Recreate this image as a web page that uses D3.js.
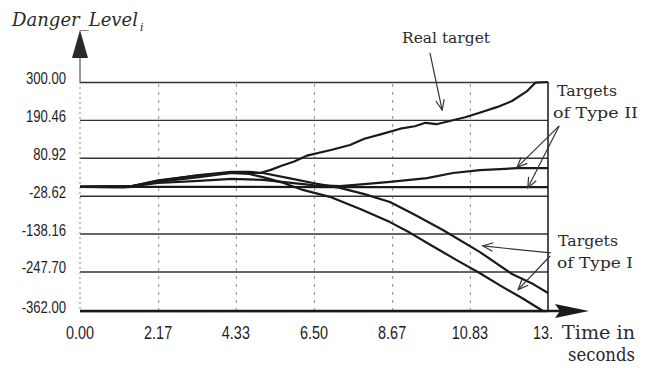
<!DOCTYPE html>
<html>
<head>
<meta charset="utf-8">
<script src="https://cdn.jsdelivr.net/npm/d3@7"></script>
<style>
  html, body { margin: 0; padding: 0; background: #fff; }
  svg { display: block; }
  .tick-label { font-family: "Liberation Sans", Arial, sans-serif; fill: #1e1e1e; }
  .note { font-family: "DejaVu Serif", "Liberation Serif", serif; fill: #2a2a2a; }
</style>
</head>
<body>
<svg id="chart" width="653" height="371"></svg>
<script>
// Axis ticks
const timeTicks = [0, 2.17, 4.33, 6.5, 8.67, 10.83, 13];
const timeTickLabels = ["0.00", "2.17", "4.33", "6.50", "8.67", "10.83", "13."];
const levelTicks = [300, 190.46, 80.92, -28.62, -138.16, -247.70, -362];
const levelTickLabels = ["300.00", "190.46", "80.92", "-28.62", "-138.16", "-247.70", "-362.00"];

// Danger level over time for each tracked target
const realTime  = [0, 1.0, 1.45, 2.17, 2.8, 3.3, 3.8, 4.2, 4.6, 5.0, 5.3, 5.6, 5.95, 6.3, 7.0, 7.5, 7.9, 8.4, 8.9, 9.3, 9.6, 9.9, 10.3, 10.7, 11.1, 11.6, 12.0, 12.4, 12.65, 13];
const realLevel = [-3, -3, -1, 16, 24, 30, 34, 37, 38, 37, 46, 58, 70, 87, 104, 118, 136, 150, 165, 172, 182, 178, 188, 198, 211, 228, 245, 272, 298, 300];

const type2aTime  = [0, 1.45, 2.17, 3.3, 4.22, 5.08, 5.8, 6.47, 7.22, 7.9, 8.61, 9.64, 10.36, 11.11, 12.14, 13];
const type2aLevel = [-3, -1, 8, 14, 20, 17, 9, 2, -1, 5, 11, 22, 37, 45, 51, 51];

const type2bTime  = [0, 1.0, 1.2, 1.45, 4.0, 7.0, 10.0, 13];
const type2bLevel = [-3, -5, -5, -3, -3, -4, -4, -4];

const type1aTime  = [0, 1.45, 2.17, 3.3, 4.2, 4.7, 5.08, 5.8, 6.47, 7.22, 7.9, 8.61, 9.3, 10.08, 11.1, 12.0, 12.6, 13];
const type1aLevel = [-3, -1, 14, 31, 40, 40, 37, 22, 8, -6, -24, -47, -84, -128, -191, -255, -285, -310];

const type1bTime  = [0, 1.45, 2.17, 3.3, 4.2, 4.7, 5.08, 5.6, 6.19, 6.94, 7.8, 8.61, 9.17, 9.8, 10.5, 11.1, 11.7, 12.3, 12.86, 13];
const type1bLevel = [-3, -1, 11, 25, 37, 34, 25, 10, -12, -32, -68, -105, -136, -175, -217, -252, -290, -326, -362, -362];

const svg = d3.select("#chart");

const x = d3.scaleLinear().domain([0, 13]).range([80, 548]);
const y = d3.scaleLinear().domain([-362, 300]).range([311, 82]);

// Dashed vertical guides
const xGrid = d3.axisBottom(x).tickValues(timeTicks.slice(1, -1))
  .tickSize(-(y(-362) - y(300))).tickFormat("");
svg.append("g").attr("transform", `translate(0,${y(-362)})`).call(xGrid)
  .call(g => g.select(".domain").remove())
  .call(g => g.selectAll("line").attr("stroke", "#9a9a9a").attr("stroke-width", 1.1)
    .attr("stroke-dasharray", "3,5"));

// Solid horizontal guides
const yGrid = d3.axisLeft(y).tickValues(levelTicks)
  .tickSize(-(x(13) - x(0))).tickFormat("");
svg.append("g").attr("transform", `translate(${x(0)},0)`).call(yGrid)
  .call(g => g.select(".domain").remove())
  .call(g => g.selectAll("line").attr("stroke", "#333").attr("stroke-width", 1.4));

// Right frame edge
svg.append("line").attr("x1", x(13)).attr("x2", x(13)).attr("y1", y(300)).attr("y2", y(-362))
  .attr("stroke", "#222").attr("stroke-width", 1.6);

// Vertical axis with arrowhead
svg.append("line").attr("x1", x(0)).attr("x2", x(0)).attr("y1", y(300)).attr("y2", y(-362))
  .attr("stroke", "#8a8a8a").attr("stroke-width", 1).attr("stroke-dasharray", "2,3");
svg.append("line").attr("x1", x(0)).attr("x2", x(0)).attr("y1", 50).attr("y2", y(300))
  .attr("stroke", "#555").attr("stroke-width", 1.2);
svg.append("path").attr("d", `M${x(0)},30 L${x(0) - 8},58 L${x(0) + 8},58 Z`).attr("fill", "#2a2a2a");

// Horizontal axis with arrowhead
svg.append("line").attr("x1", x(0)).attr("x2", 560).attr("y1", y(-362)).attr("y2", y(-362))
  .attr("stroke", "#1a1a1a").attr("stroke-width", 2.4);
svg.append("path").attr("d", `M589,${y(-362)} L555,${y(-362) - 7} L560,${y(-362)} L555,${y(-362) + 7} Z`)
  .attr("fill", "#1a1a1a");

// Tick labels (condensed sans)
const yLabels = svg.append("g");
levelTicks.forEach((v, i) => {
  yLabels.append("text").attr("class", "tick-label")
    .attr("transform", `translate(66,${y(v) + 2}) scale(0.77,1)`)
    .attr("text-anchor", "end").attr("font-size", 17)
    .text(levelTickLabels[i]);
});
const xLabels = svg.append("g");
timeTicks.forEach((t, i) => {
  const px = i === timeTicks.length - 1 ? x(t) - 5 : x(t);
  xLabels.append("text").attr("class", "tick-label")
    .attr("transform", `translate(${px},339) scale(0.76,1)`)
    .attr("text-anchor", "middle").attr("font-size", 19)
    .text(timeTickLabels[i]);
});

// Series lines
const line = d3.line().x(d => x(d[0])).y(d => y(d[1]));
const series = [
  [realTime, realLevel],
  [type2aTime, type2aLevel],
  [type2bTime, type2bLevel],
  [type1aTime, type1aLevel],
  [type1bTime, type1bLevel]
];
series.forEach(([ts, vs]) => {
  svg.append("path").datum(d3.zip(ts, vs)).attr("d", line)
    .attr("fill", "none").attr("stroke", "#1a1a1a").attr("stroke-width", 2.2)
    .attr("stroke-linejoin", "round");
});

// Annotation arrows (open heads), anchored in data units
function arrow(t0, v0, t1, v1) {
  const x0 = x(t0), y0 = y(v0), x1 = x(t1), y1 = y(v1);
  const a = Math.atan2(y1 - y0, x1 - x0), L = 11, s = 0.4;
  svg.append("line").attr("x1", x0).attr("y1", y0).attr("x2", x1).attr("y2", y1)
    .attr("stroke", "#333").attr("stroke-width", 1.2);
  svg.append("path")
    .attr("d", `M${x1 - L * Math.cos(a - s)},${y1 - L * Math.sin(a - s)} L${x1},${y1} L${x1 - L * Math.cos(a + s)},${y1 - L * Math.sin(a + s)}`)
    .attr("fill", "none").attr("stroke", "#333").attr("stroke-width", 1.2);
}
arrow(9.72, 384, 10.06, 219);
arrow(13.31, 173, 12.14, 53);
arrow(13.31, 173, 12.44, -6);
arrow(13.08, -194, 11.19, -174);
arrow(13.06, -203, 12.17, -300);

// Serif labels, each fitted to its measured width
function note(txt, px, py, size, width, opts = {}) {
  const t = svg.append("text").attr("class", "note").attr("x", px).attr("y", py)
    .attr("font-size", size).attr("textLength", width)
    .attr("lengthAdjust", "spacingAndGlyphs").text(txt);
  if (opts.italic) t.attr("font-style", "italic");
  if (opts.fill) t.attr("fill", opts.fill);
  return t;
}
note("Danger_Level", 12, 26, 18, 126, { italic: true, fill: "#222" });
svg.append("text").attr("class", "note").attr("x", 140).attr("y", 31)
  .attr("font-size", 11).attr("font-style", "italic").attr("fill", "#222").text("i");

note("Real target", 402, 43, 15, 88);
note("Targets", 557, 96, 15, 60);
note("of Type II", 553, 118, 15, 85);
note("Targets", 558, 246, 15, 60);
note("of Type I", 557, 268, 15, 76);
note("Time in", 562, 339, 18, 73, { fill: "#111" });
note("seconds", 568, 361, 18, 67, { fill: "#111" });
</script>
</body>
</html>
